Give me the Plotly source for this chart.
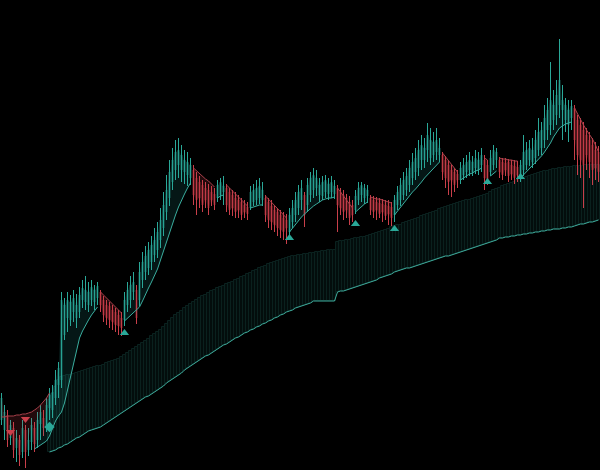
import plotly.graph_objects as go

# ---- candle data (200 bars) ----
opens = [
    50, 40, 55, 32, 42, 22, 30, 18, 40, 20,
    28, 42, 30, 46, 52, 44, 62, 60, 72, 85,
    90, 135, 152, 150, 158, 152, 158, 170, 168, 165,
    170, 168, 172, 178, 170, 165, 164, 160, 158, 155,
    152, 150, 165, 170, 178, 180, 170, 190, 198, 202,
    208, 215, 220, 230, 242, 258, 272, 288, 300, 305,
    300, 298, 295, 292, 300, 292, 288, 285, 282, 280,
    278, 276, 272, 275, 278, 282, 278, 275, 272, 270,
    268, 265, 263, 262, 268, 270, 272, 270, 272, 268,
    264, 260, 258, 255, 252, 250, 238, 248, 255, 262,
    270, 275, 265, 275, 280, 282, 275, 274, 278, 276,
    278, 276, 282, 278, 275, 272, 268, 265, 260, 270,
    275, 272, 274, 272, 270, 268, 267, 266, 265, 264,
    263, 255, 265, 270, 275, 280, 285, 292, 298, 302,
    310, 310, 320, 312, 315, 318, 315, 315, 310, 305,
    300, 298, 296, 290, 295, 298, 300, 298, 302, 300,
    305, 310, 305, 298, 305, 310, 310, 308, 307, 308,
    305, 304, 303, 292, 300, 305, 310, 308, 312, 320,
    322, 330, 340, 345, 350, 355, 365, 360, 350, 345,
    352, 362, 350, 345, 340, 335, 330, 325, 320, 318,
]
highs = [
    77, 65, 60, 50, 48, 40, 35, 50, 45, 42,
    52, 48, 58, 65, 60, 72, 82, 85, 100, 108,
    178, 172, 178, 175, 180, 176, 183, 190, 194, 188,
    190, 185, 188, 180, 174, 170, 168, 165, 162, 160,
    158, 178, 188, 194, 198, 185, 208, 218, 224, 228,
    234, 242, 248, 262, 278, 295, 310, 322, 330, 332,
    325, 320, 318, 312, 305, 298, 294, 290, 288, 286,
    284, 282, 290, 292, 294, 286, 282, 280, 278, 275,
    272, 270, 268, 284, 286, 290, 292, 288, 275, 272,
    270, 265, 262, 260, 258, 256, 262, 270, 278, 285,
    290, 278, 292, 298, 302, 300, 292, 294, 295, 292,
    294, 290, 285, 282, 280, 276, 274, 270, 280, 288,
    288, 286, 285, 275, 274, 273, 272, 271, 270, 270,
    268, 275, 284, 292, 298, 302, 310, 317, 322, 330,
    335, 332, 347, 342, 338, 342, 332, 318, 314, 310,
    305, 302, 300, 308, 312, 315, 318, 314, 320, 318,
    322, 315, 310, 320, 325, 322, 313, 312, 312, 311,
    310, 310, 309, 310, 335, 328, 330, 332, 340, 352,
    348, 365, 372, 408, 380, 390, 431, 385, 372, 370,
    370, 365, 355, 352, 348, 342, 338, 332, 328, 324,
]
lows = [
    45, 30, 23, 25, 12, 8, 4, 12, 2, 14,
    20, 18, 22, 30, 34, 38, 50, 52, 65, 72,
    82, 130, 138, 144, 148, 142, 152, 162, 160, 158,
    164, 160, 165, 158, 148, 145, 142, 140, 138, 135,
    134, 144, 158, 162, 170, 146, 164, 182, 190, 195,
    200, 208, 212, 222, 234, 250, 264, 280, 290, 292,
    288, 286, 284, 285, 265, 255, 262, 258, 262, 255,
    264, 260, 268, 270, 265, 258, 255, 254, 252, 252,
    250, 252, 250, 260, 264, 265, 266, 264, 248, 242,
    240, 238, 234, 232, 230, 226, 232, 242, 248, 255,
    260, 243, 258, 268, 272, 274, 268, 270, 272, 270,
    272, 271, 238, 255, 250, 252, 245, 248, 256, 265,
    268, 266, 267, 255, 252, 250, 252, 248, 250, 245,
    244, 248, 260, 264, 270, 274, 278, 285, 290, 294,
    300, 302, 308, 305, 308, 310, 308, 290, 282, 275,
    273, 278, 282, 286, 290, 292, 294, 294, 296, 295,
    298, 280, 285, 294, 300, 302, 292, 290, 294, 288,
    290, 286, 288, 288, 294, 300, 304, 302, 306, 314,
    315, 322, 330, 335, 340, 345, 352, 330, 338, 328,
    340, 310, 295, 292, 262, 300, 292, 285, 290, 288,
]
closes = [
    72, 58, 30, 45, 20, 32, 15, 42, 18, 30,
    45, 26, 50, 58, 42, 65, 75, 78, 90, 102,
    170, 165, 170, 168, 172, 165, 175, 182, 180, 178,
    183, 180, 184, 165, 155, 152, 150, 148, 145, 144,
    142, 170, 180, 185, 188, 152, 198, 208, 214, 220,
    225, 230, 238, 250, 265, 280, 298, 310, 318, 320,
    315, 310, 308, 305, 275, 270, 272, 265, 270, 262,
    270, 265, 285, 288, 284, 265, 260, 262, 258, 260,
    255, 258, 256, 278, 280, 282, 284, 280, 255, 250,
    248, 245, 242, 240, 238, 242, 255, 262, 270, 278,
    282, 255, 285, 292, 295, 292, 285, 288, 290, 286,
    288, 284, 265, 262, 258, 260, 252, 255, 274, 282,
    285, 282, 280, 260, 258, 260, 256, 258, 254, 256,
    252, 270, 278, 285, 290, 294, 302, 308, 312, 320,
    325, 322, 335, 330, 328, 330, 322, 298, 292, 288,
    290, 285, 290, 302, 305, 308, 310, 308, 312, 310,
    315, 292, 290, 312, 320, 318, 298, 295, 300, 294,
    296, 292, 295, 305, 318, 320, 322, 320, 330, 338,
    340, 352, 360, 370, 365, 375, 390, 370, 365, 360,
    364, 330, 315, 310, 305, 315, 308, 300, 302, 298,
]

# ---- trailing trend lines: (start bar, values) ----
up_segments = [
    (11, [21, 23, 25, 27, 29, 34, 42, 49, 54, 58, 67, 80, 94, 108, 121, 132, 139, 145, 150, 155, 159, 163]),
    (41, [149, 152, 155, 158, 160, 163, 169, 176, 182, 188, 194, 201, 210, 219, 229, 239, 247, 255, 263, 270, 276, 282, 287]),
    (72, [272, 274, 275]),
    (83, [262, 263, 264, 265, 265]),
    (96, [238, 242, 246, 250, 253, 256, 259, 262, 264, 266, 268, 270, 271, 272, 272, 273]),
    (118, [258, 261, 264, 266, 268]),
    (131, [255, 259, 263, 267, 271, 275, 278, 281, 284, 288, 292, 295, 298, 302, 305, 308]),
    (153, [290, 292, 294, 296, 297, 299, 300, 302]),
    (163, [294, 297, 299]),
    (173, [292, 295, 298, 302, 305, 308, 311, 314, 318, 322, 327, 333, 338, 342, 344, 346, 347, 348]),
]
down_segments = [
    (0, [53, 53, 54, 54, 54, 55, 55, 56, 56, 57, 58, 60, 62, 65, 68, 72, 77]),
    (33, [178, 175, 172, 169, 166, 163, 160, 157]),
    (64, [302, 299, 297, 294, 291, 289, 286, 283]),
    (75, [285, 282, 279, 276, 273, 270, 267, 264]),
    (88, [274, 271, 268, 265, 262, 259, 256, 252]),
    (112, [282, 278, 274, 270, 266, 262]),
    (123, [273, 272, 271, 271, 270, 269, 268, 267]),
    (147, [317, 313, 309, 305, 301, 298]),
    (161, [312, 310]),
    (166, [312, 311, 311, 310, 310, 309, 309]),
    (191, [362, 356, 350, 345, 340, 336, 331, 325, 318]),
]

# ---- cloud band (from bar 16) ----
cloud_start = 16
cloud_upper = [
    70, 76, 83, 90,
    93, 94, 95, 95, 96, 97, 98, 99, 100, 101,
    102, 103, 104, 104, 105, 107, 108, 109, 110, 111,
    113, 115, 117, 119, 121, 123, 125, 127, 129, 131,
    134, 136, 138, 140, 143, 146, 149, 152, 155, 157,
    159, 162, 164, 166, 168, 170, 172, 174, 175, 177,
    179, 180, 182, 183, 184, 186, 187, 188, 190, 191,
    193, 194, 196, 197, 199, 200, 202, 203, 204, 206,
    207, 208, 209, 210, 211, 212, 213, 214, 214, 215,
    215, 216, 216, 217, 217, 218, 218, 219, 219, 220,
    220, 220, 228, 229, 229, 230, 230, 231, 232, 232,
    233, 233, 234, 235, 236, 237, 238, 239, 240, 241,
    243, 244, 245, 245, 247, 248, 249, 250, 251, 252,
    254, 255, 256, 257, 258, 259, 261, 262, 263, 264,
    265, 266, 267, 268, 269, 270, 270, 271, 272, 273,
    274, 275, 276, 278, 280, 281, 282, 284, 285, 286,
    287, 288, 290, 291, 292, 293, 294, 295, 296, 297,
    298, 299, 299, 300, 301, 301, 302, 302, 303, 303,
    303, 304, 304, 304, 304, 305, 305, 305, 305, 305,
]
cloud_lower = [
    18, 19, 20, 22,
    23, 25, 26, 28, 30, 32, 33, 35, 37, 39,
    40, 41, 42, 43, 45, 47, 49, 51, 53, 55,
    57, 59, 61, 63, 65, 67, 69, 71, 73, 74,
    76, 78, 80, 82, 84, 87, 89, 91, 93, 95,
    97, 100, 102, 104, 106, 108, 110, 112, 114, 115,
    117, 119, 121, 123, 125, 126, 128, 130, 132, 133,
    135, 137, 138, 140, 141, 143, 144, 146, 147, 149,
    150, 152, 153, 155, 156, 158, 159, 160, 162, 163,
    164, 165, 166, 167, 169, 169, 169, 169, 169, 169,
    169, 169, 178, 179, 179, 180, 181, 182, 183, 184,
    185, 186, 187, 188, 189, 190, 192, 193, 194, 195,
    196, 198, 199, 200, 201, 202, 202, 203, 204, 205,
    206, 207, 208, 209, 210, 211, 212, 213, 214, 214,
    215, 216, 217, 218, 219, 220, 221, 222, 223, 224,
    225, 226, 227, 228, 229, 230, 232, 232, 233, 233,
    234, 234, 235, 235, 236, 236, 237, 237, 238, 238,
    239, 239, 240, 240, 241, 241, 241, 242, 242, 243,
    243, 244, 245, 246, 246, 247, 248, 248, 249, 250,
]

# ---- signal markers ----
buy_bars = [41, 96, 118, 131, 162, 173]
buy_prices = [137, 232, 246, 241, 288, 293]
sell_bars = [3, 8]
sell_prices = [38, 51]
flip_bars = [16]
flip_prices = [43]

TEAL = "#2aa898"
RED = "#c93f4a"

bars = list(range(len(closes)))
fig = go.Figure()

# cloud band as faint striped bars
cx = list(range(cloud_start, cloud_start + len(cloud_upper)))
fig.add_trace(go.Bar(
    x=cx, y=[u - l for u, l in zip(cloud_upper, cloud_lower)], base=cloud_lower,
    marker=dict(color="#030d0c", line=dict(color="#0a211e", width=1)),
    hoverinfo="skip"))
fig.add_trace(go.Scatter(x=cx, y=cloud_lower, mode="lines",
                         line=dict(color="#3fae9e", width=1), hoverinfo="skip"))

# trend fills and lines
def add_segments(segments, line_color, fill_color):
    for start, vals in segments:
        xs = list(range(start, start + len(vals)))
        fig.add_trace(go.Scatter(x=xs, y=[closes[i] for i in xs], mode="lines",
                                 line=dict(width=0, color=fill_color), hoverinfo="skip"))
        fig.add_trace(go.Scatter(x=xs, y=vals, mode="lines", fill="tonexty",
                                 fillcolor=fill_color,
                                 line=dict(color=line_color, width=1), hoverinfo="skip"))

add_segments(up_segments, "#3aae9f", "rgba(38,166,154,0.14)")
add_segments(down_segments, "#a8404a", "rgba(200,60,72,0.17)")

fig.add_trace(go.Candlestick(
    x=bars, open=opens, high=highs, low=lows, close=closes,
    increasing=dict(line=dict(color=TEAL, width=1), fillcolor=TEAL),
    decreasing=dict(line=dict(color=RED, width=1), fillcolor=RED),
    whiskerwidth=0))

fig.add_trace(go.Scatter(x=buy_bars, y=buy_prices, mode="markers",
                         marker=dict(symbol="triangle-up", size=8, color=TEAL)))
fig.add_trace(go.Scatter(x=sell_bars, y=sell_prices, mode="markers",
                         marker=dict(symbol="triangle-down", size=8, color=RED)))
fig.add_trace(go.Scatter(x=flip_bars, y=flip_prices, mode="markers",
                         marker=dict(symbol="diamond", size=8, color=TEAL)))

fig.update_layout(
    width=600, height=470,
    margin=dict(l=0, r=0, t=0, b=0),
    paper_bgcolor="#000000", plot_bgcolor="#000000",
    showlegend=False, bargap=0, boxgap=0.75,
    xaxis=dict(range=[-0.5, 199.5], visible=False, rangeslider=dict(visible=False)),
    yaxis=dict(range=[0, 470], visible=False),
)
fig.write_html(
    "out.html",
    config={"displayModeBar": False},
    post_script="document.body.style.margin='0';document.body.style.background='#000';",
)
